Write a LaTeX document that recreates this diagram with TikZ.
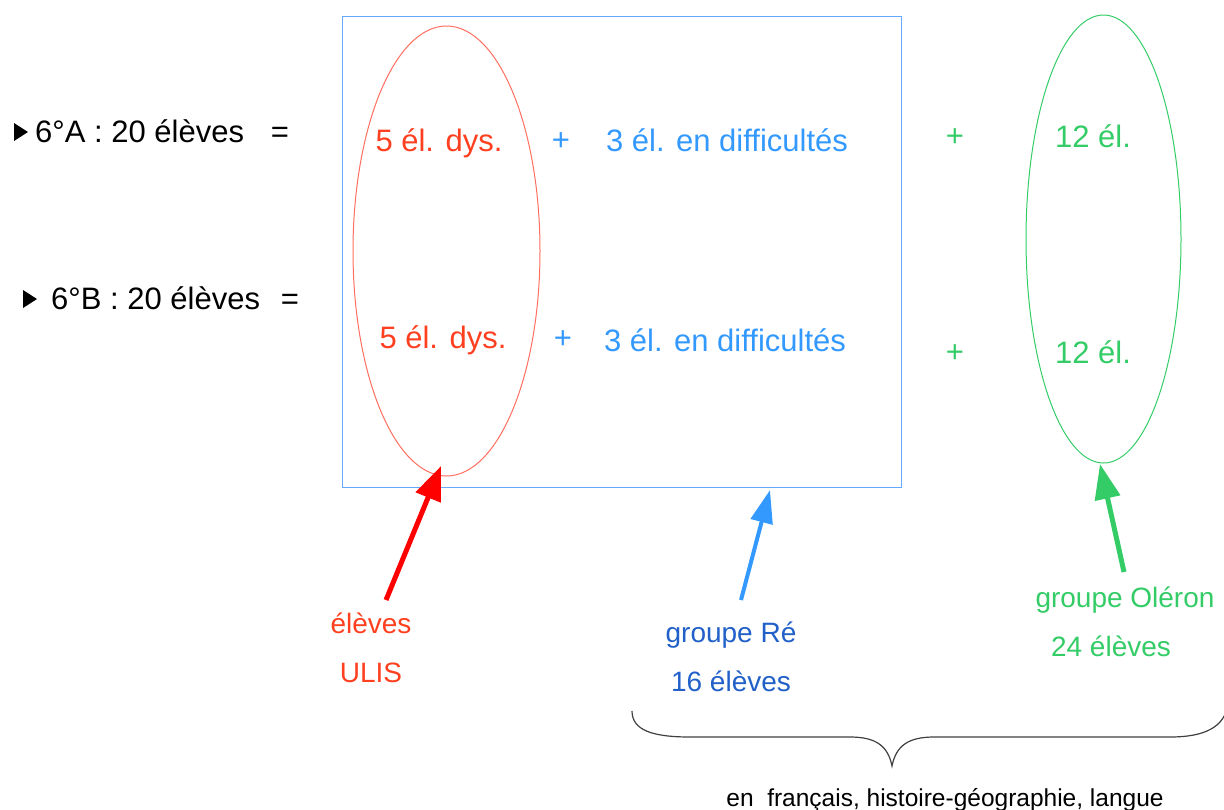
\documentclass[tikz,border=0pt]{standalone}
\usepackage{fontspec}
\setmainfont{Liberation Sans}
\usetikzlibrary{arrows.meta,shapes.geometric}
\definecolor{cred}{RGB}{255,64,32}
\definecolor{cblue}{RGB}{51,153,255}
\definecolor{cdblue}{RGB}{32,96,200}
\definecolor{cgreen}{RGB}{51,204,102}
\definecolor{cbox}{RGB}{100,170,255}
\definecolor{cell}{RGB}{255,110,95}
\tikzset{
  big/.style={font=\fontsize{31}{36}\selectfont, inner sep=0pt, anchor=base},
  lab/.style={font=\fontsize{28}{34}\selectfont, inner sep=0pt, anchor=base},
  foot/.style={font=\fontsize{24.5}{30}\selectfont, inner sep=0pt, anchor=base},
}
\begin{document}
\begin{tikzpicture}[x=1pt,y=-1pt]
\useasboundingbox (0,0) rectangle (1224,809);
% left labels
\fill (14,123) -- (28,132) -- (14,141) -- cycle;
\node[big, anchor=base west] (la) at (35,142) {6°A : 20 élèves};
\node[big] (eqa) at (280,142) {=};
\fill (23,290) -- (37,299) -- (23,308) -- cycle;
\node[big, anchor=base west] (lb) at (51,309) {6°B : 20 élèves};
\node[big] (eqb) at (290,309) {=};
% box and ellipses
\draw[cbox, line width=1pt] (342,16) rectangle (901,487);
\node[draw=cell, line width=1pt, ellipse, minimum width=187pt, minimum height=450pt, inner sep=0pt] (ulis) at (446.5,251) {};
\node[draw=cgreen, line width=1pt, ellipse, minimum width=155pt, minimum height=448pt, inner sep=0pt] (ole) at (1103.5,239) {};
% row A
\node[big, text=cred] (da) at (439,151) {5 él. dys.};
\node[big, text=cblue] (pa) at (561,150) {+};
\node[big, text=cblue] (fa) at (727,151) {3 él. en difficultés};
\node[big, text=cgreen] (qa) at (955,146) {+};
\node[big, text=cgreen] (ga) at (1093,147) {12 él.};
% row B
\node[big, text=cred] (db) at (443,348) {5 él. dys.};
\node[big, text=cblue] (pb) at (563,348) {+};
\node[big, text=cblue] (fb) at (725,351) {3 él. en difficultés};
\node[big, text=cgreen] (qb) at (955,362) {+};
\node[big, text=cgreen] (gb) at (1093,363) {12 él.};
% bottom labels
\node[lab, text=cred] (u1) at (371,633) {élèves};
\node[lab, text=cred] (u2) at (371,682) {ULIS};
\node[lab, text=cdblue] (r1) at (731,642) {groupe Ré};
\node[lab, text=cdblue] (r2) at (731,691) {16 élèves};
\node[lab, text=cgreen] (o1) at (1125,607) {groupe Oléron};
\node[lab, text=cgreen] (o2) at (1111,656) {24 élèves};
% arrows
\coordinate (ra) at (386,600);
\coordinate (rt) at (441,466);
\coordinate (ba) at (741,600);
\coordinate (bt) at (770,490);
\coordinate (ga0) at (1124,572);
\coordinate (gt) at (1100,464);
\draw[red, line width=5pt, -{Triangle[length=34pt,width=26pt]}] (ra) -- (rt);
\draw[cblue, line width=4pt, -{Triangle[length=33pt,width=22pt]}] (ba) -- (bt);
\draw[cgreen, line width=5pt, -{Triangle[length=35pt,width=25pt]}] (ga0) -- (gt);
% brace
\draw[black!75, line width=1.2pt] (632,711) .. controls (632,730) and (652,737) .. (690,737) -- (850,737) .. controls (876,737) and (888,746) .. (892,766) .. controls (896,746) and (908,737) .. (934,737) -- (1170,737) .. controls (1205,737) and (1224,727) .. (1228,705);
\node[foot] (ft) at (945,806) {en\ \ français, histoire-géographie, langue};
\end{tikzpicture}
\end{document}
